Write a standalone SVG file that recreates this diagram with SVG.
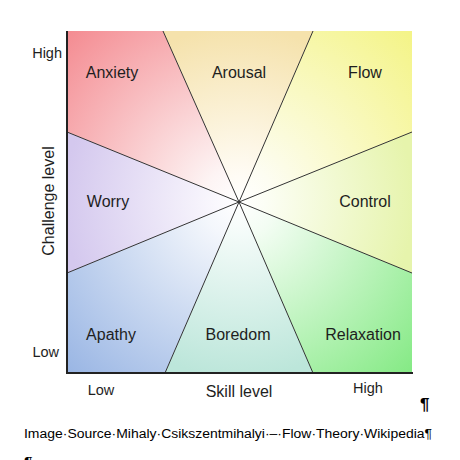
<svg xmlns="http://www.w3.org/2000/svg" width="460" height="460" viewBox="0 0 460 460">
<style>
.lbl{font-family:"Liberation Sans",Arial,sans-serif;font-size:16px;fill:#1e1e1e;text-anchor:middle}
.ax{font-family:"Liberation Sans",Arial,sans-serif;font-size:14.5px;fill:#1e1e1e}
.sep{stroke:#333;stroke-width:1;fill:none}
.axis{stroke:#222;stroke-width:2;fill:none}
.cap{font-family:"Liberation Sans",Arial,sans-serif;font-size:12px;fill:#000}
</style>
<defs>
<radialGradient id="gCorner" gradientUnits="userSpaceOnUse" cx="239" cy="202" r="245"><stop offset="0" stop-color="#fff"/><stop offset="1" stop-color="#fff" stop-opacity="0"/></radialGradient>
<radialGradient id="gAnx" gradientUnits="userSpaceOnUse" cx="239" cy="202" r="240"><stop offset="0" stop-color="#ffffff"/><stop offset="0.15" stop-color="#fdf4f4"/><stop offset="1" stop-color="#f48c92"/></radialGradient>
<radialGradient id="gFlow" gradientUnits="userSpaceOnUse" cx="239" cy="202" r="240"><stop offset="0" stop-color="#ffffff"/><stop offset="0.15" stop-color="#fdfdf2"/><stop offset="1" stop-color="#f4f488"/></radialGradient>
<radialGradient id="gApa" gradientUnits="userSpaceOnUse" cx="239" cy="202" r="240"><stop offset="0" stop-color="#ffffff"/><stop offset="0.15" stop-color="#f4f7fc"/><stop offset="1" stop-color="#9ab6e4"/></radialGradient>
<radialGradient id="gRel" gradientUnits="userSpaceOnUse" cx="239" cy="202" r="240"><stop offset="0" stop-color="#ffffff"/><stop offset="0.15" stop-color="#f3fdf3"/><stop offset="1" stop-color="#86ea86"/></radialGradient>
<radialGradient id="gAro" gradientUnits="userSpaceOnUse" cx="239" cy="202" r="175"><stop offset="0" stop-color="#ffffff"/><stop offset="0.15" stop-color="#fffcf5"/><stop offset="1" stop-color="#f5e2ac"/></radialGradient>
<radialGradient id="gCon" gradientUnits="userSpaceOnUse" cx="239" cy="202" r="175"><stop offset="0" stop-color="#ffffff"/><stop offset="0.15" stop-color="#fcfef5"/><stop offset="1" stop-color="#e6f4ac"/></radialGradient>
<radialGradient id="gBor" gradientUnits="userSpaceOnUse" cx="239" cy="202" r="175"><stop offset="0" stop-color="#ffffff"/><stop offset="0.15" stop-color="#f6fcfa"/><stop offset="1" stop-color="#bce6da"/></radialGradient>
<radialGradient id="gWor" gradientUnits="userSpaceOnUse" cx="239" cy="202" r="175"><stop offset="0" stop-color="#ffffff"/><stop offset="0.15" stop-color="#f9f7fd"/><stop offset="1" stop-color="#d4c8ee"/></radialGradient>
</defs>
<rect width="460" height="460" fill="#fff"/>
<g id="anxiety"><polygon points="239,202 67,132 67,31 163,31" fill="url(#gAnx)"/><text class="lbl" x="112" y="78">Anxiety</text></g>
<g id="arousal"><polygon points="239,202 163,31 313,31" fill="url(#gAro)"/><text class="lbl" x="239" y="78">Arousal</text></g>
<g id="flow"><polygon points="239,202 313,31 412,31 412,132" fill="url(#gFlow)"/><text class="lbl" x="365" y="78">Flow</text></g>
<g id="control"><polygon points="239,202 412,132 412,273" fill="url(#gCon)"/><text class="lbl" x="365" y="207">Control</text></g>
<g id="relaxation"><polygon points="239,202 412,273 412,373 313,373" fill="url(#gRel)"/><text class="lbl" x="363" y="340">Relaxation</text></g>
<g id="boredom"><polygon points="239,202 313,373 165,373" fill="url(#gBor)"/><text class="lbl" x="238" y="340">Boredom</text></g>
<g id="apathy"><polygon points="239,202 165,373 67,373 67,273" fill="url(#gApa)"/><text class="lbl" x="111" y="340">Apathy</text></g>
<g id="worry"><polygon points="239,202 67,273 67,132" fill="url(#gWor)"/><text class="lbl" x="108" y="207">Worry</text></g>
<g id="connectors">
<line class="sep" x1="239" y1="202" x2="163" y2="31"/>
<line class="sep" x1="239" y1="202" x2="313" y2="31"/>
<line class="sep" x1="239" y1="202" x2="67" y2="132"/>
<line class="sep" x1="239" y1="202" x2="67" y2="273"/>
<line class="sep" x1="239" y1="202" x2="412" y2="132"/>
<line class="sep" x1="239" y1="202" x2="412" y2="273"/>
<line class="sep" x1="239" y1="202" x2="165" y2="373"/>
<line class="sep" x1="239" y1="202" x2="313" y2="373"/>
<polyline class="axis" points="67,31 67,373 413,373"/>
</g>
<g id="axes">
<text class="ax" x="62" y="58" text-anchor="end">High</text>
<text class="ax" x="59" y="357" text-anchor="end">Low</text>
<text class="lbl" transform="translate(54,201) rotate(-90)">Challenge level</text>
<text class="ax" x="101" y="395" text-anchor="middle">Low</text>
<text class="lbl" x="239" y="397">Skill level</text>
<text class="ax" x="368" y="393" text-anchor="middle">High</text>
</g>
<g id="caption">
<text x="420" y="410" font-family="Liberation Sans,Arial,sans-serif" font-size="17" font-weight="bold">¶</text>
<text class="cap" x="24" y="438" textLength="408" lengthAdjust="spacingAndGlyphs">Image·Source·Mihaly·Csikszentmihalyi·–·Flow·Theory·Wikipedia¶</text>
<text x="24" y="469" font-family="Liberation Sans,Arial,sans-serif" font-size="16">¶</text>
</g>
</svg>
